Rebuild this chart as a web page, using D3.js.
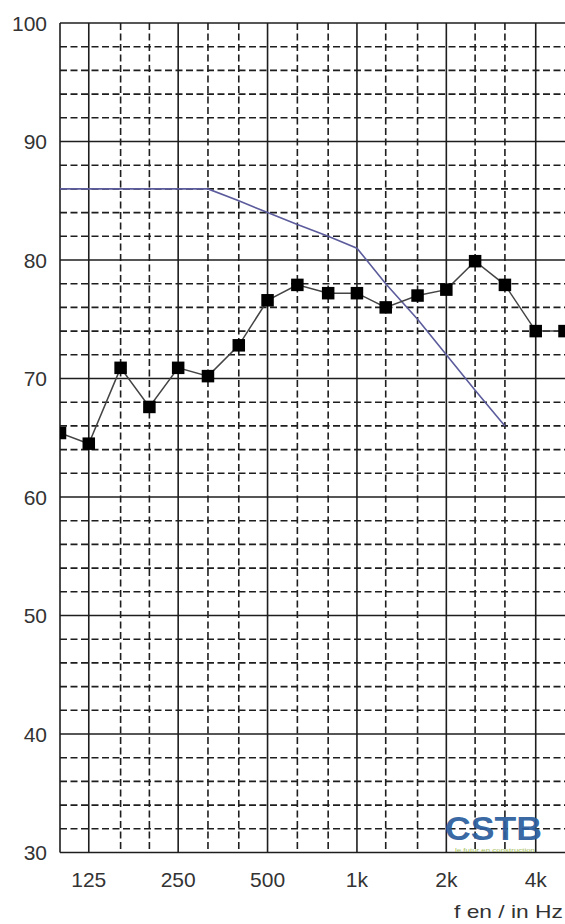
<!DOCTYPE html>
<html>
<head>
<meta charset="utf-8">
<script src="https://cdn.jsdelivr.net/npm/d3@7/dist/d3.min.js"></script>
<style>
  html, body { margin: 0; padding: 0; background: #fff; }
  svg { display: block; }
</style>
</head>
<body>
<svg id="chart" width="565" height="924"></svg>
<script>
// ---- data ----
const frequencies = [100, 125, 160, 200, 250, 315, 400, 500, 630, 800, 1000, 1250, 1600, 2000, 2500, 3150, 4000, 5000];
const measured = [65.4, 64.5, 70.9, 67.6, 70.9, 70.2, 72.8, 76.6, 77.9, 77.2, 77.2, 76.0, 77.0, 77.5, 79.9, 77.9, 74.0, 74.0];
const refFrequencies = [100, 125, 160, 200, 250, 315, 400, 500, 630, 800, 1000, 1250, 1600, 2000, 2500, 3150];
const referenceCurve = [86, 86, 86, 86, 86, 86, 85, 84, 83, 82, 81, 78, 75, 72, 69, 66];
const octaveTicks = [125, 250, 500, 1000, 2000, 4000];
const octaveLabels = ["125", "250", "500", "1k", "2k", "4k"];
const thirdTicks = [160, 200, 315, 400, 630, 800, 1250, 1600, 2500, 3150];
const yMajor = [30, 40, 50, 60, 70, 80, 90, 100];
const yMinor = [32, 34, 36, 38, 42, 44, 46, 48, 52, 54, 56, 58, 62, 64, 66, 68, 72, 74, 76, 78, 82, 84, 86, 88, 92, 94, 96, 98];
const axisTitle = "f en / in Hz";

// ---- layout ----
const mLeft = 60, mRight = 564.5, mTop = 23, mBottom = 852.5;
const svg = d3.select("#chart");
const x = d3.scaleLog().domain([100, 5000]).range([mLeft, mRight]);
const y = d3.scaleLinear().domain([30, 100]).range([mBottom, mTop]);

svg.append("defs").append("clipPath").attr("id", "plotclip")
  .append("rect").attr("x", mLeft).attr("y", mTop).attr("width", 565 - mLeft).attr("height", mBottom - mTop);

const grid = svg.append("g");
const dash = "7,3.5";
const gridColor = "#1e1e1e";

grid.selectAll("line.hmin").data(yMinor).join("line")
  .attr("x1", mLeft).attr("x2", 565)
  .attr("y1", d => y(d)).attr("y2", d => y(d))
  .attr("stroke", gridColor).attr("stroke-width", 1.6).attr("stroke-dasharray", dash);
grid.selectAll("line.vmin").data(thirdTicks).join("line")
  .attr("x1", d => x(d)).attr("x2", d => x(d))
  .attr("y1", mTop).attr("y2", mBottom)
  .attr("stroke", gridColor).attr("stroke-width", 1.6).attr("stroke-dasharray", dash);
grid.selectAll("line.hmaj").data(yMajor).join("line")
  .attr("x1", mLeft).attr("x2", 565)
  .attr("y1", d => y(d)).attr("y2", d => y(d))
  .attr("stroke", gridColor).attr("stroke-width", 1.6);
grid.selectAll("line.vmaj").data([100].concat(octaveTicks)).join("line")
  .attr("x1", d => x(d)).attr("x2", d => x(d))
  .attr("y1", mTop).attr("y2", mBottom)
  .attr("stroke", gridColor).attr("stroke-width", 1.6);

// logo
const font = "Liberation Sans, Arial, sans-serif";
const logo = svg.append("g");
logo.append("text")
  .attr("x", 445).attr("y", 840)
  .attr("font-family", font)
  .attr("font-weight", "bold").attr("font-size", 34)
  .attr("textLength", 97).attr("lengthAdjust", "spacingAndGlyphs")
  .attr("fill", "#2d5f9e").attr("fill-opacity", 0.95)
  .text("CSTB");
logo.append("text")
  .attr("x", 455).attr("y", 851.5)
  .attr("font-family", font)
  .attr("font-size", 4.5).attr("textLength", 80).attr("lengthAdjust", "spacingAndGlyphs")
  .attr("fill", "#a3bd55")
  .text("le futur en construction");

const plot = svg.append("g").attr("clip-path", "url(#plotclip)");

plot.append("path")
  .datum(refFrequencies.map((f, i) => [f, referenceCurve[i]]))
  .attr("d", d3.line().x(d => x(d[0])).y(d => y(d[1])))
  .attr("fill", "none").attr("stroke", "#5c5c9c").attr("stroke-width", 1.6);

const pts = frequencies.map((f, i) => [f, measured[i]]);
plot.append("path")
  .datum(pts)
  .attr("d", d3.line().x(d => x(d[0])).y(d => y(d[1])))
  .attr("fill", "none").attr("stroke", "#444").attr("stroke-width", 1.5);
const ms = 12.5;
plot.selectAll("rect.m").data(pts).join("rect")
  .attr("x", d => x(d[0]) - ms / 2).attr("y", d => y(d[1]) - ms / 2)
  .attr("width", ms).attr("height", ms).attr("fill", "#000");

svg.selectAll("text.yl").data(yMajor).join("text")
  .attr("x", 47).attr("y", d => y(d))
  .attr("text-anchor", "end").attr("dominant-baseline", "central")
  .attr("font-family", font).attr("font-size", 21).attr("fill", "#333")
  .text(d => d);

svg.selectAll("text.xl").data(octaveTicks).join("text")
  .attr("x", d => x(d)).attr("y", 887)
  .attr("text-anchor", "middle")
  .attr("font-family", font).attr("font-size", 21).attr("fill", "#333")
  .text((d, i) => octaveLabels[i]);

svg.append("text")
  .attr("x", 563).attr("y", 918)
  .attr("text-anchor", "end")
  .attr("font-family", font).attr("font-size", 19).attr("fill", "#333")
  .attr("textLength", 109).attr("lengthAdjust", "spacingAndGlyphs")
  .text(axisTitle);
</script>
</body>
</html>
